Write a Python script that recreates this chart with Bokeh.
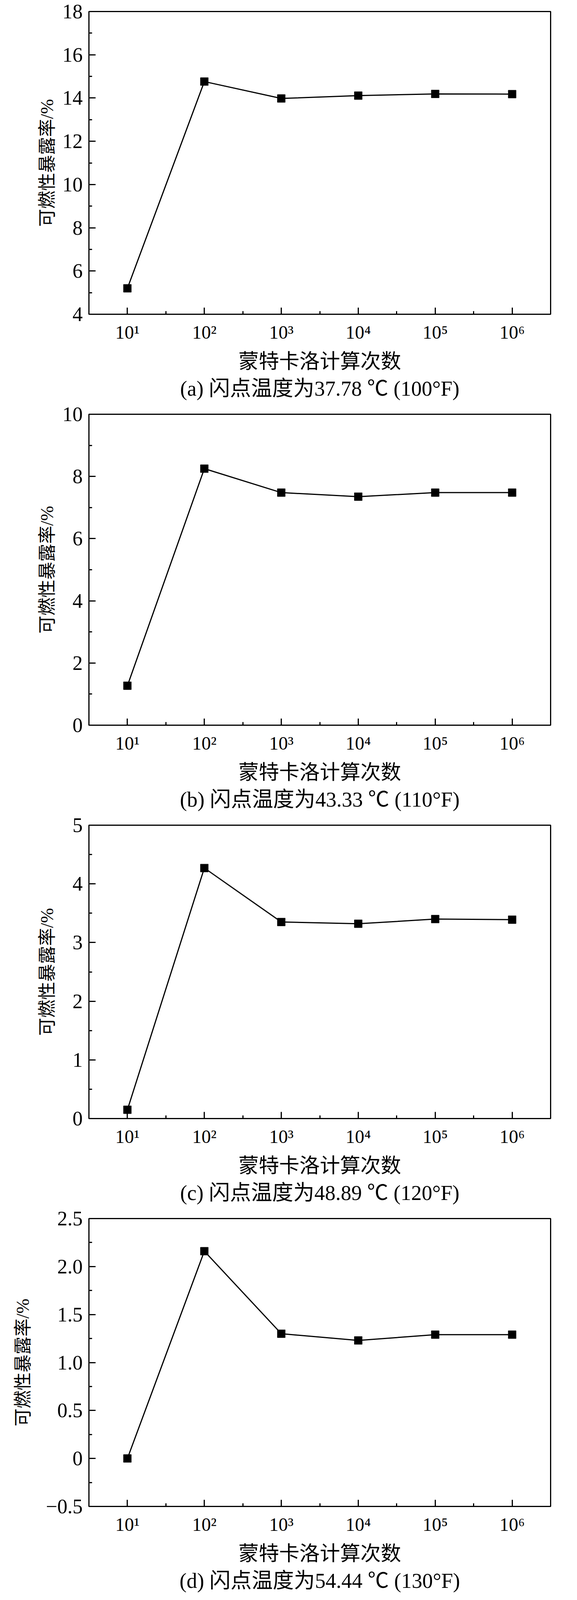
from bokeh.plotting import figure
from bokeh.models import Range1d, FixedTicker, Title
from bokeh.layouts import column
from bokeh.embed import file_html
from bokeh.resources import INLINE

# ---- data ----
counts = [10, 100, 1000, 10000, 100000, 1000000]
count_labels = ["10¹", "10²", "10³", "10⁴", "10⁵", "10⁶"]
exposure_a = [5.2, 14.76, 13.98, 14.11, 14.19, 14.18]
exposure_b = [1.27, 8.25, 7.48, 7.35, 7.48, 7.48]
exposure_c = [0.15, 4.27, 3.35, 3.32, 3.40, 3.39]
exposure_d = [0.0, 2.16, 1.30, 1.23, 1.29, 1.29]

yticks_a = [4, 6, 8, 10, 12, 14, 16, 18]
yticks_b = [0, 2, 4, 6, 8, 10]
yticks_c = [0, 1, 2, 3, 4, 5]
yticks_d = [-0.5, 0, 0.5, 1.0, 1.5, 2.0, 2.5]
ylabels_a = ["4", "6", "8", "10", "12", "14", "16", "18"]
ylabels_b = ["0", "2", "4", "6", "8", "10"]
ylabels_c = ["0", "1", "2", "3", "4", "5"]
ylabels_d = ["\u22120.5", "0", "0.5", "1.0", "1.5", "2.0", "2.5"]

captions = [
    "(a) 闪点温度为37.78 ℃ (100°F)",
    "(b) 闪点温度为43.33 ℃ (110°F)",
    "(c) 闪点温度为48.89 ℃ (120°F)",
    "(d) 闪点温度为54.44 ℃ (130°F)",
]
xlabel = "蒙特卡洛计算次数"
ylabel = "可燃性暴露率/%"

FONT = "'Liberation Serif', 'Noto Sans CJK SC'"


def make_panel(yvals, yticks, ylabels, yrange, caption, frame_h, top, bottom, ylab_standoff):
    p = figure(width=1460, height=top + frame_h + bottom,
               x_axis_type="log",
               x_range=Range1d(10 ** 0.5, 10 ** 6.5),
               y_range=Range1d(*yrange),
               output_backend="svg", toolbar_location=None,
               min_border_left=227, min_border_right=52,
               min_border_top=top, min_border_bottom=bottom)
    p.xgrid.visible = False
    p.ygrid.visible = False
    p.outline_line_color = "black"
    p.outline_line_width = 3
    p.outline_line_alpha = 1.0

    minors_x = [10 ** (k + 0.5) for k in range(1, 6)]
    p.xaxis.ticker = FixedTicker(ticks=counts, minor_ticks=minors_x)
    p.xaxis.major_label_overrides = {c: l for c, l in zip(counts, count_labels)}
    step = yticks[1] - yticks[0]
    minors_y = [t + step / 2 for t in yticks[:-1]]
    p.yaxis.ticker = FixedTicker(ticks=yticks, minor_ticks=minors_y)
    p.yaxis.major_label_overrides = {t: l for t, l in zip(yticks, ylabels)}

    for ax in (p.xaxis[0], p.yaxis[0]):
        ax.axis_line_width = 3
        ax.axis_line_color = "black"
        ax.major_tick_in = 17
        ax.major_tick_out = 0
        ax.minor_tick_in = 8
        ax.minor_tick_out = 0
        ax.major_tick_line_width = 3
        ax.minor_tick_line_width = 3
        ax.major_tick_line_color = "black"
        ax.minor_tick_line_color = "black"
        ax.major_label_text_font = FONT
        ax.major_label_text_color = "black"
        ax.axis_label_text_font = FONT
        ax.axis_label_text_font_style = "normal"
        ax.axis_label_text_color = "black"

    p.xaxis.major_label_text_font_size = "48px"
    p.xaxis.major_label_standoff = 19
    p.xaxis.axis_label = xlabel
    p.xaxis.axis_label_text_font_size = "52px"
    p.xaxis.axis_label_standoff = 17

    p.yaxis.major_label_text_font_size = "52px"
    p.yaxis.major_label_standoff = 16
    p.yaxis.axis_label = ylabel
    p.yaxis.axis_label_text_font_size = "46px"
    p.yaxis.axis_label_standoff = ylab_standoff

    p.line(counts, yvals, line_width=3, line_color="black")
    p.scatter(counts, yvals, marker="square", size=20, fill_color="black", line_color="black")

    p.add_layout(Title(text=caption, align="center", text_font=FONT,
                       text_font_size="54px", text_font_style="normal",
                       text_color="black", standoff=13), "below")
    return p


pa = make_panel(exposure_a, yticks_a, ylabels_a, (4, 18), captions[0], 782, 29, 220, 11)
pb = make_panel(exposure_b, yticks_b, ylabels_b, (0, 10), captions[1], 805, 29, 218, 11)
pc = make_panel(exposure_c, yticks_c, ylabels_c, (0, 5), captions[2], 759, 29, 219, 37)
pd = make_panel(exposure_d, yticks_d, ylabels_d, (-0.5, 2.5), captions[3], 744, 29, 220, 30)

layout = column(pa, pb, pc, pd, spacing=0)
open("out.html", "w").write(file_html(layout, INLINE))
